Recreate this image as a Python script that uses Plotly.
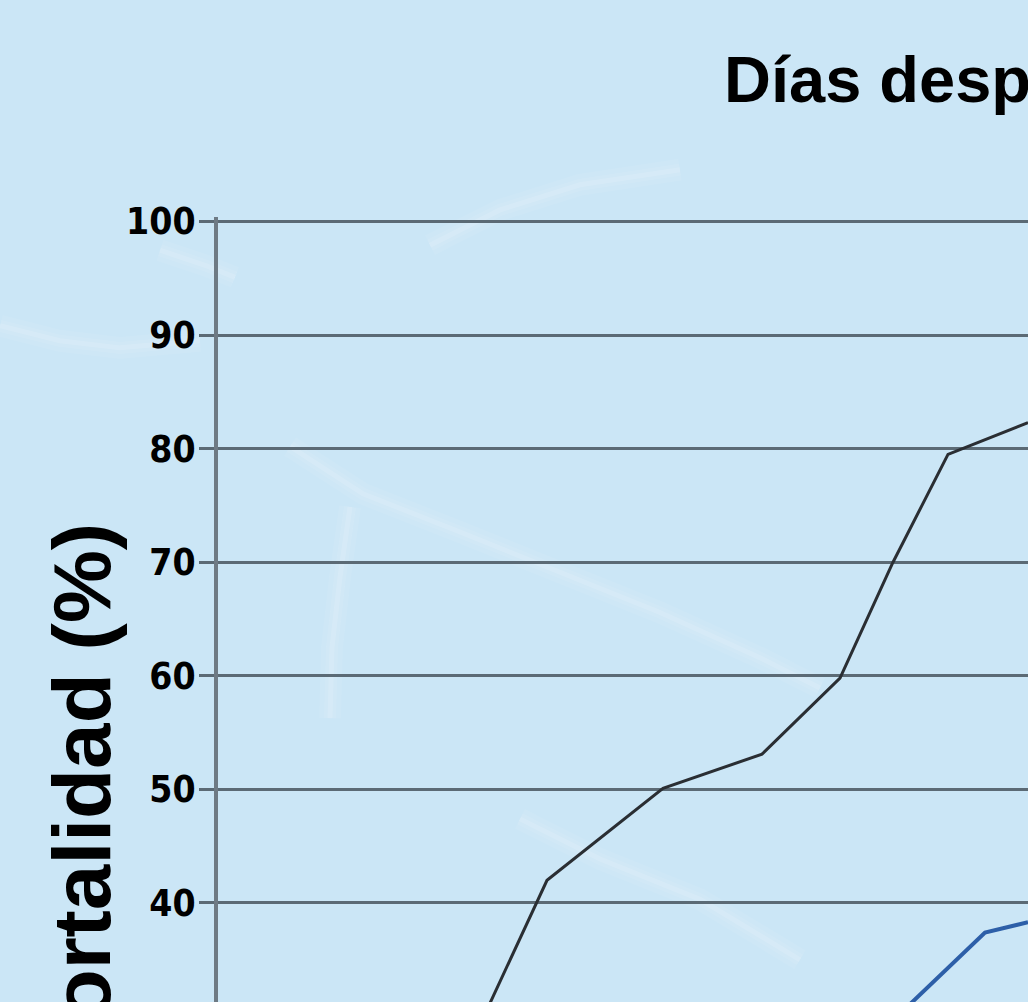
import plotly.graph_objects as go

# days after exposure (x) and mortality (%)
dias_a = [2.6, 3.29, 4.45, 5.44, 6.22, 6.75, 7.30, 8.10]
mort_a = [28.9, 42.0, 50.1, 53.1, 59.8, 70.0, 79.5, 82.3]

dias_b = [6.72, 7.67, 8.10]
mort_b = [29.4, 37.4, 38.3]

y_ticks = [30, 40, 50, 60, 70, 80, 90, 100]

BG = "#cbe6f6"
GRID = "#5b6a75"
L, T, W, H = 218, 222, 810, 780  # plot area in pixels


def px_path(points):
    # pixel points -> path in paper coordinates of the plot area
    pts = [((x - L) / W, (T + H - y) / H) for x, y in points]
    return "M " + " L ".join(f"{a:.4f},{b:.4f}" for a, b in pts)


fig = go.Figure()

# soft light streaks of the water background (layered to look blurred)
streaks = [
    [(290, 450), (363, 497), (460, 535), (560, 575), (660, 615), (760, 660), (820, 690)],
    [(350, 510), (340, 580), (332, 650), (330, 720)],
    [(160, 255), (205, 270), (235, 282)],
    [(0, 330), (60, 345), (120, 352), (200, 345)],
    [(430, 250), (500, 215), (580, 190), (680, 175)],
    [(520, 820), (600, 860), (700, 900), (800, 960)],
]
for pts in streaks:
    for w, a in [(22, 0.06), (12, 0.08), (5, 0.12)]:
        fig.add_shape(type="path", path=px_path(pts), xref="paper", yref="paper",
                      layer="below", line=dict(color=f"rgba(255,255,255,{a})", width=w))

fig.add_trace(go.Scatter(x=dias_a, y=mort_a, mode="lines",
                         line=dict(color="#2a2e33", width=3), showlegend=False))
fig.add_trace(go.Scatter(x=dias_b, y=mort_b, mode="lines",
                         line=dict(color="#2d5fa8", width=4), showlegend=False))

fig.add_annotation(text="<b>Días después</b>", xref="paper", yref="paper",
                   x=(722 - L) / W, y=1 + (T - 85) / H,
                   xanchor="left", yanchor="middle", showarrow=False,
                   font=dict(family="Liberation Sans", size=65, color="#000000"))
fig.add_annotation(text="<b>Mortalidad (%)</b>", xref="paper", yref="paper",
                   x=(82 - L) / W, y=(T + H - 807) / H, textangle=-90,
                   xanchor="center", yanchor="middle", showarrow=False,
                   font=dict(family="Liberation Sans", size=82, color="#000000"))

top = 100.4
fig.update_xaxes(range=[0, 8.1], visible=False, showgrid=False)
fig.update_yaxes(range=[31.28, top], tickvals=y_ticks, showgrid=True,
                 gridcolor=GRID, gridwidth=3, zeroline=False,
                 showline=True, linecolor="#6e7a84", linewidth=4,
                 ticks="outside", ticklen=15, tickwidth=3, tickcolor=GRID,
                 ticklabelstandoff=-4,
                 tickfont=dict(family="DejaVu Sans Condensed", size=37,
                               color="#000000", weight="bold"))
fig.update_layout(width=1028, height=1002, paper_bgcolor=BG, plot_bgcolor="rgba(0,0,0,0)",
                  margin=dict(l=L, r=0, t=T - (top - 100) * H / (top - 31.28), b=0),
                  showlegend=False)
fig.write_html("out.html", config={"displayModeBar": False})

# drop the browser's default body margin so the figure sits at the page corner
with open("out.html", encoding="utf-8") as f:
    page = f.read()
page = page.replace("<head>", "<head><style>html,body{margin:0;padding:0;overflow:hidden}</style>", 1)
with open("out.html", "w", encoding="utf-8") as f:
    f.write(page)
